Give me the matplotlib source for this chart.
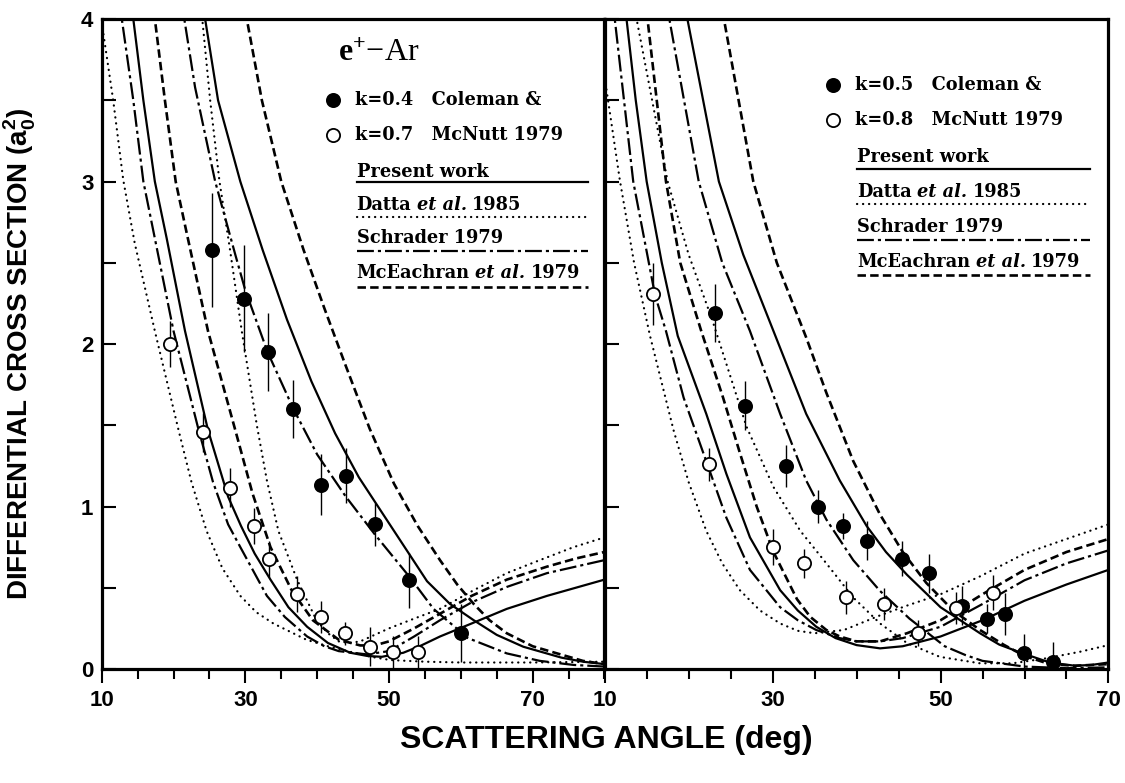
import numpy as np
import matplotlib.pyplot as plt
from matplotlib.offsetbox import TextArea, HPacker, AnnotationBbox

plt.rcParams['font.family'] = ['Liberation Sans', 'DejaVu Sans']
plt.rcParams['font.weight'] = 'bold'
plt.rcParams['mathtext.fontset'] = 'custom'
plt.rcParams['mathtext.rm'] = 'Liberation Serif'
plt.rcParams['mathtext.bf'] = 'Liberation Sans:bold'

# ---------------- left panel (e+ - Ar, k = 0.4 / 0.7) ----------------
# measured points, Coleman & McNutt 1979
left_k04_x = [25.4, 29.8, 33.1, 36.7, 40.5, 44.0, 48.0, 52.8, 60.0]
left_k04_y = [2.58, 2.28, 1.95, 1.60, 1.135, 1.19, 0.89, 0.546, 0.22]
left_k04_err = [0.35, 0.33, 0.24, 0.18, 0.19, 0.17, 0.13, 0.17, 0.18]

left_k07_x = [19.5, 24.15, 27.8, 31.25, 33.35, 37.2, 40.6, 43.9, 47.3, 50.5, 54.0]
left_k07_y = [2.0, 1.456, 1.115, 0.88, 0.675, 0.46, 0.32, 0.22, 0.137, 0.106, 0.106]
left_k07_err = [0.14, 0.12, 0.12, 0.11, 0.11, 0.11, 0.10, 0.07, 0.12, 0.10, 0.10]

# theory curves, steep group (minimum near 45-50 deg)
left_pres_a_x = [14.0, 14.4, 15.8, 17.4, 19.05, 21.6, 24.8, 27.6, 29.4, 31.3, 33.5, 36.0, 38.6, 41.5,
                 44.6, 47.0, 49.0, 52.0, 54.5, 57.1, 61.5, 66.4, 72.0, 76.0, 80.0]
left_pres_a_y = [4.2, 4.0, 3.5, 3.0, 2.65, 2.08, 1.47, 1.06, 0.88, 0.71, 0.55, 0.38, 0.26, 0.16,
                 0.10, 0.08, 0.075, 0.10, 0.145, 0.20, 0.28, 0.37, 0.45, 0.50, 0.55]
left_datta_a_x = [23.6, 24.0, 25.1, 26.4, 27.8, 29.5, 31.6, 33.0, 34.6, 37.2, 39.9, 41.5, 43.0, 44.5,
                  46.0, 48.0, 50.0, 53.5, 57.1, 61.8, 66.4, 71.0, 75.7, 80.0]
left_datta_a_y = [4.2, 4.0, 3.5, 3.0, 2.6, 2.08, 1.5, 1.16, 0.85, 0.55, 0.30, 0.22, 0.17, 0.16,
                  0.17, 0.21, 0.25, 0.31, 0.37, 0.485, 0.59, 0.67, 0.75, 0.81]
left_schr_a_x = [12.4, 12.8, 14.4, 15.8, 17.4, 20.0, 23.5, 25.5, 27.6, 29.3, 33.0, 35.5, 38.6, 41.0,
                 43.0, 46.9, 50.0, 53.5, 57.1, 61.5, 66.4, 72.0, 76.0, 80.0]
left_schr_a_y = [4.2, 4.0, 3.5, 3.0, 2.65, 2.08, 1.47, 1.15, 0.89, 0.75, 0.45, 0.32, 0.20, 0.14,
                 0.11, 0.09, 0.11, 0.20, 0.30, 0.41, 0.505, 0.59, 0.63, 0.67]
left_mce_a_x = [17.0, 17.4, 18.8, 20.3, 21.8, 24.8, 28.6, 31.0, 33.5, 36.5, 39.4, 43.0, 46.0, 48.0,
                50.0, 53.5, 57.1, 61.5, 66.4, 72.0, 76.0, 80.0]
left_mce_a_y = [4.2, 4.0, 3.5, 3.0, 2.69, 2.08, 1.47, 1.08, 0.75, 0.48, 0.30, 0.18, 0.145, 0.145,
                0.17, 0.25, 0.34, 0.45, 0.55, 0.63, 0.68, 0.72]

# theory curves, broad group (falling to ~0 at large angle)
left_pres_b_x = [24.1, 24.4, 26.2, 29.3, 32.4, 35.8, 39.2, 42.5, 45.8, 50.4, 55.3, 58.5, 61.8, 65.0,
                 68.7, 74.0, 77.0, 80.0]
left_pres_b_y = [4.15, 4.0, 3.5, 3.0, 2.58, 2.15, 1.77, 1.45, 1.18, 0.87, 0.54, 0.40, 0.30, 0.21,
                 0.137, 0.07, 0.045, 0.03]
left_datta_b_x = [10.0, 11.6, 13.0, 14.6, 17.4, 20.7, 22.5, 24.6, 26.8, 29.3, 31.5, 33.9, 38.5, 41.5,
                  44.6, 47.5, 50.2, 55.0, 60.0, 70.0, 80.0]
left_datta_b_y = [3.98, 3.5, 3.01, 2.62, 2.08, 1.47, 1.15, 0.85, 0.62, 0.45, 0.35, 0.28, 0.18, 0.14,
                  0.106, 0.075, 0.055, 0.045, 0.04, 0.04, 0.045]
left_schr_b_x = [21.0, 21.5, 23.0, 25.8, 28.6, 30.0, 33.1, 36.7, 40.0, 44.0, 48.0, 52.8, 56.2, 61.0,
                 66.4, 71.0, 75.7, 80.0]
left_schr_b_y = [4.15, 4.0, 3.58, 3.0, 2.55, 2.33, 1.95, 1.6, 1.32, 1.06, 0.83, 0.57, 0.37, 0.19,
                 0.096, 0.05, 0.025, 0.015]
left_mce_b_x = [29.9, 30.2, 32.3, 35.0, 38.1, 41.0, 43.9, 47.3, 50.7, 54.0, 57.1, 59.5, 61.8, 64.0,
                66.4, 70.0, 73.4, 77.0, 80.0]
left_mce_b_y = [4.15, 4.0, 3.5, 3.0, 2.58, 2.22, 1.875, 1.48, 1.14, 0.88, 0.67, 0.52, 0.40, 0.30,
                0.22, 0.14, 0.096, 0.05, 0.03]

# ---------------- right panel (k = 0.5 / 0.8) ----------------
right_k05_x = [23.1, 26.7, 31.6, 35.4, 38.4, 41.2, 45.4, 48.6, 52.6, 55.5, 57.7, 59.9, 63.4]
right_k05_y = [2.19, 1.62, 1.25, 1.0, 0.88, 0.79, 0.68, 0.59, 0.39, 0.31, 0.34, 0.096, 0.045]
right_k05_err = [0.18, 0.15, 0.13, 0.10, 0.08, 0.12, 0.11, 0.12, 0.12, 0.09, 0.13, 0.12, 0.12]

right_k08_x = [15.8, 22.4, 30.1, 33.7, 38.7, 43.3, 47.3, 51.9, 56.3]
right_k08_y = [2.31, 1.26, 0.75, 0.65, 0.44, 0.40, 0.22, 0.376, 0.47]
right_k08_err = [0.19, 0.10, 0.11, 0.09, 0.10, 0.10, 0.08, 0.10, 0.11]

right_pres_a_x = [12.4, 12.6, 13.7, 15.0, 16.8, 18.7, 22.1, 24.5, 27.3, 30.9, 33.0, 35.2, 37.5, 40.0,
                  42.8, 45.5, 50.0, 55.0, 60.0, 65.0, 70.0]
right_pres_a_y = [4.15, 4.0, 3.5, 3.0, 2.5, 2.05, 1.57, 1.2, 0.81, 0.485, 0.36, 0.26, 0.19, 0.147,
                  0.127, 0.14, 0.2, 0.30, 0.42, 0.52, 0.61]
right_datta_a_x = [10.0, 11.8, 13.5, 15.4, 18.2, 20.0, 22.1, 24.0, 26.1, 28.5, 30.9, 33.0, 35.0, 38.5,
                   42.8, 46.0, 50.0, 54.7, 60.0, 65.0, 70.0]
right_datta_a_y = [3.64, 3.01, 2.5, 2.05, 1.47, 1.15, 0.85, 0.65, 0.485, 0.36, 0.28, 0.235, 0.22, 0.24,
                   0.33, 0.39, 0.46, 0.57, 0.71, 0.80, 0.89]
right_schr_a_x = [11.0, 11.2, 13.4, 16.0, 17.3, 19.4, 22.5, 24.5, 27.3, 30.9, 33.0, 35.2, 38.0, 40.0,
                  42.8, 45.5, 50.0, 55.0, 60.0, 65.0, 70.0]
right_schr_a_y = [4.15, 4.0, 3.0, 2.3, 2.08, 1.67, 1.22, 0.93, 0.61, 0.38, 0.30, 0.24, 0.19, 0.17,
                  0.17, 0.19, 0.26, 0.40, 0.546, 0.65, 0.73]
right_mce_a_x = [14.9, 15.1, 17.3, 19.0, 21.5, 24.1, 26.1, 28.1, 30.1, 32.9, 34.5, 36.4, 38.0, 40.0,
                 42.8, 46.0, 50.0, 55.0, 60.0, 65.0, 70.0]
right_mce_a_y = [4.15, 4.0, 3.0, 2.5, 2.08, 1.67, 1.33, 1.0, 0.72, 0.43, 0.32, 0.24, 0.20, 0.17,
                 0.17, 0.22, 0.30, 0.46, 0.61, 0.72, 0.80]

right_pres_b_x = [19.5, 19.85, 23.6, 26.5, 30.1, 34.0, 38.0, 41.2, 43.5, 46.0, 50.0, 54.7, 57.0, 59.8,
                  63.0, 66.0, 68.0, 70.0]
right_pres_b_y = [4.15, 4.0, 3.0, 2.55, 2.08, 1.57, 1.16, 0.88, 0.72, 0.58, 0.38, 0.22, 0.15, 0.096,
                  0.04, 0.02, 0.025, 0.04]
right_datta_b_x = [13.5, 13.8, 17.5, 20.0, 22.8, 26.9, 30.1, 33.3, 36.4, 39.6, 42.8, 46.0, 49.9, 54.7,
                   58.6, 62.6, 66.6, 70.0]
right_datta_b_y = [4.15, 4.0, 3.0, 2.55, 2.15, 1.49, 1.12, 0.85, 0.65, 0.44, 0.28, 0.16, 0.075, 0.035,
                   0.035, 0.066, 0.106, 0.147]
right_schr_b_x = [17.4, 17.7, 21.2, 24.0, 27.3, 30.9, 34.0, 36.4, 39.6, 42.8, 46.3, 50.5, 53.0, 55.0,
                  60.0, 65.0, 70.0]
right_schr_b_y = [4.15, 4.0, 3.0, 2.5, 2.08, 1.57, 1.16, 0.92, 0.67, 0.48, 0.31, 0.14, 0.085, 0.05,
                  0.015, 0.005, 0.01]
right_mce_b_x = [23.8, 24.2, 27.7, 30.5, 34.0, 36.4, 39.6, 42.8, 45.5, 48.3, 51.5, 54.7, 57.5, 60.0,
                 63.0, 66.0, 70.0]
right_mce_b_y = [4.15, 4.0, 3.0, 2.5, 2.04, 1.70, 1.28, 0.95, 0.72, 0.53, 0.36, 0.24, 0.15, 0.08,
                 0.03, 0.02, 0.03]

x_major = [10, 30, 50, 70]
y_major = [0, 1, 2, 3, 4]

# line styles for the four calculations
sty = {
    'pres': dict(ls='-', lw=1.6),
    'datta': dict(ls=(0, (0.1, 2.6)), lw=1.6, dash_capstyle='round'),
    'schr': dict(ls=(0, (7.6, 1.8, 1.4, 1.8)), lw=1.6),
    'mce': dict(ls=(0, (3.2, 1.6)), lw=1.9),
}

fig = plt.figure(figsize=(11.25, 7.83), dpi=100)
ax1 = fig.add_axes([0.0904, 0.1456, 0.4469, 0.8301])
ax2 = fig.add_axes([0.5375, 0.1456, 0.4478, 0.8301])


def draw_curves(ax, curves):
    for name, xs, ys in curves:
        ax.plot(xs, ys, color='k', zorder=2, solid_joinstyle='round', **sty[name])


def draw_points(ax, xs, ys, err, filled):
    ax.errorbar(xs, ys, yerr=err, fmt='none', ecolor='k', elinewidth=1.0, capsize=0, zorder=3)
    ax.plot(xs, ys, 'o', ms=9.5, mfc='k' if filled else 'white', mec='k', mew=1.3, zorder=4)


draw_curves(ax1, [
    ('pres', left_pres_a_x, left_pres_a_y), ('datta', left_datta_a_x, left_datta_a_y),
    ('schr', left_schr_a_x, left_schr_a_y), ('mce', left_mce_a_x, left_mce_a_y),
    ('pres', left_pres_b_x, left_pres_b_y), ('datta', left_datta_b_x, left_datta_b_y),
    ('schr', left_schr_b_x, left_schr_b_y), ('mce', left_mce_b_x, left_mce_b_y),
])
draw_points(ax1, left_k04_x, left_k04_y, left_k04_err, True)
draw_points(ax1, left_k07_x, left_k07_y, left_k07_err, False)

draw_curves(ax2, [
    ('pres', right_pres_a_x, right_pres_a_y), ('datta', right_datta_a_x, right_datta_a_y),
    ('schr', right_schr_a_x, right_schr_a_y), ('mce', right_mce_a_x, right_mce_a_y),
    ('pres', right_pres_b_x, right_pres_b_y), ('datta', right_datta_b_x, right_datta_b_y),
    ('schr', right_schr_b_x, right_schr_b_y), ('mce', right_mce_b_x, right_mce_b_y),
])
draw_points(ax2, right_k05_x, right_k05_y, right_k05_err, True)
draw_points(ax2, right_k08_x, right_k08_y, right_k08_err, False)

for ax, xmax in [(ax1, 80), (ax2, 70)]:
    ax.set_xlim(10, xmax)
    ax.set_ylim(0, 4)
    ax.set_xticks(x_major)
    ax.set_xticks(np.arange(10, xmax + 1, 5), minor=True)
    ax.set_yticks(y_major)
    ax.set_yticks(np.arange(0, 4.01, 0.5), minor=True)
    ax.tick_params(axis='x', which='major', direction='out', length=10, width=1.5,
                   labelsize=16, pad=5)
    ax.tick_params(axis='x', which='minor', direction='out', length=7, width=1.5)
    ax.tick_params(axis='y', which='both', direction='in', length=10, width=1.5,
                   labelsize=16, pad=6)
    for s in ax.spines.values():
        s.set_linewidth(2.3)

ax2.tick_params(axis='y', labelleft=False)

# key text
txt = dict(family='DejaVu Serif', weight='bold', size=12.8)
itl = dict(family='DejaVu Serif', weight='bold', style='italic', size=12.8)


def key(ax, mx, tx, rows, labels, lines, x1, lfy):
    for (fy, filled, label) in rows:
        ax.plot([mx], [fy], 'o', ms=9.5, mfc='k' if filled else 'white', mec='k', mew=1.3,
                transform=ax.transAxes, clip_on=False)
        ax.text(tx, fy, label, transform=ax.transAxes, ha='left', va='center', **txt)
    for (fy, parts), name, ly in zip(labels, lines, lfy):
        kids = [TextArea(p, textprops=(itl if it else txt)) for p, it in parts]
        box = HPacker(children=kids, align='baseline', pad=0, sep=4)
        ab = AnnotationBbox(box, (tx + 0.004, fy), xycoords='axes fraction',
                            box_alignment=(0, 0.5), frameon=False, pad=0)
        ax.add_artist(ab)
        ax.plot([tx + 0.004, x1], [ly, ly], color='k', transform=ax.transAxes,
                clip_on=False, **sty[name])


ax1.text(0.47, 0.947, r'$\mathrm{e^{+}}$' + '\u2212Ar', transform=ax1.transAxes,
         family='Liberation Serif', weight='normal', fontsize=23, ha='left', va='center')

label_parts = [
    [('Present work', False)],
    [('Datta', False), ('et al.', True), ('1985', False)],
    [('Schrader 1979', False)],
    [('McEachran', False), ('et al.', True), ('1979', False)],
]
line_names = ['pres', 'datta', 'schr', 'mce']

key(ax1, 0.46, 0.503,
    [(0.875, True, 'k=0.4   Coleman &'), (0.8215, False, 'k=0.7   McNutt 1979')],
    list(zip([0.765, 0.714, 0.663, 0.609], label_parts)), line_names, 0.967,
    [0.750, 0.695, 0.6435, 0.588])

key(ax2, 0.4537, 0.497,
    [(0.8985, True, 'k=0.5   Coleman &'), (0.8446, False, 'k=0.8   McNutt 1979')],
    list(zip([0.788, 0.734, 0.680, 0.6266], label_parts)), line_names, 0.964,
    [0.770, 0.715, 0.660, 0.606])

fig.text(0.018, 0.548, r'DIFFERENTIAL CROSS SECTION (a$_\mathbf{0}^\mathbf{2}$)',
         rotation=90, ha='center', va='center', fontsize=20, fontweight='bold')
fig.text(0.539, 0.055, 'SCATTERING ANGLE (deg)', ha='center', va='center',
         fontsize=23, fontweight='bold')

fig.savefig('out.png', dpi=100)
